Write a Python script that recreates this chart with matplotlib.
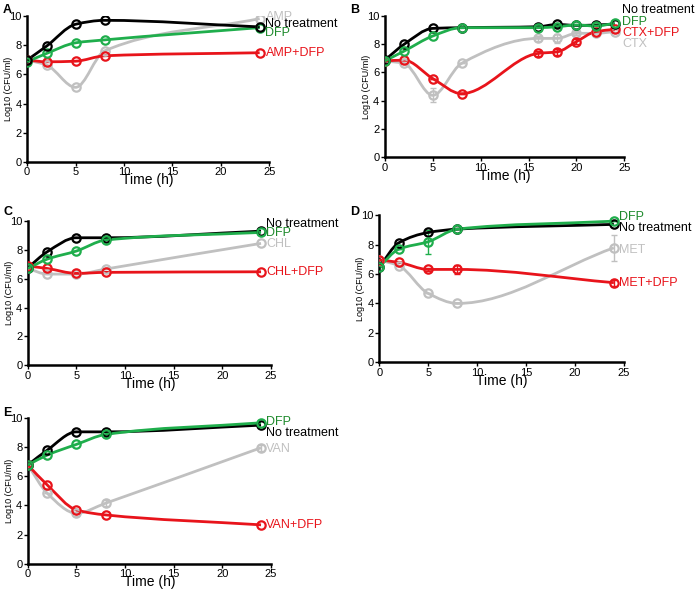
import matplotlib
matplotlib.use('Agg')
import matplotlib.pyplot as plt
import numpy as np
from matplotlib.path import Path
from matplotlib.patches import PathPatch

plt.rcParams['font.family'] = ['Liberation Sans', 'DejaVu Sans']

BLACK = '#000000'
GREEN = '#1fae4c'
GREEN_TXT = '#1e8a2c'
RED = '#e8141b'
GRAY = '#c0c0c0'

# Panel A
t_a = [0, 2, 5, 8, 24]
a_none = [6.98, 7.93, 9.43, 9.70, 9.25]
a_dfp = [6.86, 7.43, 8.16, 8.36, 9.20]
a_amp = [6.98, 6.64, 5.11, 7.61, 9.82]
a_ampdfp = [6.98, 6.86, 6.90, 7.27, 7.48]

# Panel B
t_b = [0, 2, 5, 8, 16, 18, 20, 22, 24]
b_none = [6.88, 7.99, 9.12, 9.17, 9.24, 9.40, 9.33, 9.36, 9.43]
b_dfp = [6.82, 7.51, 8.58, 9.17, 9.17, 9.24, 9.36, 9.29, 9.48]
b_ctx = [6.82, 6.64, 4.38, 6.64, 8.41, 8.41, 8.77, 8.77, 8.89]
b_ctx_err = [0, 0, 0.5, 0, 0.15, 0.3, 0.15, 0, 0]
b_ctxdfp = [6.82, 6.87, 5.57, 4.50, 7.35, 7.46, 8.18, 8.89, 9.05]
b_ctxdfp_err = [0, 0, 0, 0, 0.15, 0.2, 0.2, 0, 0]

# Panel C
t_c = [0, 2, 5, 8, 24]
c_none = [6.76, 7.87, 8.84, 8.84, 9.30]
c_dfp = [6.71, 7.36, 7.92, 8.68, 9.21]
c_chl = [6.71, 6.32, 6.32, 6.67, 8.45]
c_chldfp = [6.88, 6.71, 6.37, 6.44, 6.48]

# Panel D
t_d = [0, 2, 5, 8, 24]
d_none = [6.49, 8.12, 8.82, 9.05, 9.37]
d_dfp = [6.49, 7.69, 8.19, 9.05, 9.59]
d_dfp_err = [0, 0, 0.8, 0, 0]
d_met = [6.95, 6.56, 4.68, 4.00, 7.78]
d_met_err = [0, 0, 0, 0, 0.9]
d_metdfp = [6.95, 6.79, 6.31, 6.31, 5.41]
d_metdfp_err = [0, 0, 0.1, 0.3, 0.2]

# Panel E
t_e = [0, 2, 5, 8, 24]
e_none = [6.77, 7.79, 9.04, 9.04, 9.50]
e_dfp = [6.77, 7.45, 8.18, 8.86, 9.66]
e_van = [6.77, 4.83, 3.46, 4.15, 7.95]
e_van_err = [0, 0, 0.2, 0.2, 0.2]
e_vandfp = [6.77, 5.40, 3.69, 3.35, 2.67]


def pchip_slopes(x, y):
    x = np.asarray(x, float)
    y = np.asarray(y, float)
    h = np.diff(x)
    d = np.diff(y) / h
    m = np.zeros_like(y)
    m[0] = d[0]
    m[-1] = d[-1]
    for k in range(1, len(x) - 1):
        if d[k - 1] * d[k] <= 0:
            m[k] = 0
        else:
            w1 = 2 * h[k] + h[k - 1]
            w2 = h[k] + 2 * h[k - 1]
            m[k] = (w1 + w2) / (w1 / d[k - 1] + w2 / d[k])
    return m


def curve(ax, x, y, color, err=None):
    # courbe lissee (cubique de Hermite) passant par les points
    m = pchip_slopes(x, y)
    verts = [(x[0], y[0])]
    codes = [Path.MOVETO]
    for k in range(len(x) - 1):
        h = x[k + 1] - x[k]
        verts += [(x[k] + h / 3, y[k] + m[k] * h / 3),
                  (x[k + 1] - h / 3, y[k + 1] - m[k + 1] * h / 3),
                  (x[k + 1], y[k + 1])]
        codes += [Path.CURVE4] * 3
    ax.add_patch(PathPatch(Path(verts, codes), fill=False, edgecolor=color,
                           lw=2, zorder=3))
    if err is not None:
        ax.errorbar(x, y, yerr=err, fmt='none', ecolor=color, elinewidth=1,
                    capsize=2, zorder=2)
    ax.plot(x, y, 'o', ms=6, mfc='none', mec=color, mew=1.6, zorder=4)


def setup(ax, letter, lx, ly):
    ax.set_xlim(0, 25)
    ax.set_ylim(0, 10)
    ax.set_xticks([0, 5, 10, 15, 20, 25])
    ax.set_yticks([0, 2, 4, 6, 8, 10])
    for s in ['top', 'right']:
        ax.spines[s].set_visible(False)
    for s in ['left', 'bottom']:
        ax.spines[s].set_linewidth(1.8)
    ax.tick_params(labelsize=8, length=3, width=1, pad=1)
    ax.set_xlabel('Time (h)', fontsize=10, labelpad=-3)
    ax.set_ylabel('Log10 (CFU/ml)', fontsize=6.5)
    ax.yaxis.set_label_coords(-0.058, 0.5)
    fig.text(lx / 696, 1 - ly / 591, letter, fontsize=9, fontweight='bold',
             ha='left', va='top')


def label(ax, x, y, text, color):
    ax.text(x, y, text, color=color, fontsize=9, va='center', ha='left',
            clip_on=False)


fig = plt.figure(figsize=(6.96, 5.91), dpi=100)

ax = fig.add_axes([0.039, 0.726, 0.348, 0.247])
setup(ax, 'A', 3, 4)
curve(ax, t_a, a_amp, GRAY)
curve(ax, t_a, a_ampdfp, RED)
curve(ax, t_a, a_dfp, GREEN)
curve(ax, t_a, a_none, BLACK)
label(ax, 24.6, 9.9, 'AMP', GRAY)
label(ax, 24.6, 9.43, 'No treatment', BLACK)
label(ax, 24.6, 8.85, 'DFP', GREEN_TXT)
label(ax, 24.6, 7.48, 'AMP+DFP', RED)

ax = fig.add_axes([0.553, 0.734, 0.344, 0.239])
setup(ax, 'B', 350, 4)
curve(ax, t_b, b_ctx, GRAY, b_ctx_err)
curve(ax, t_b, b_ctxdfp, RED, b_ctxdfp_err)
curve(ax, t_b, b_none, BLACK)
curve(ax, t_b, b_dfp, GREEN)
label(ax, 24.8, 10.4, 'No treatment', BLACK)
label(ax, 24.8, 9.6, 'DFP', GREEN_TXT)
label(ax, 24.8, 8.77, 'CTX+DFP', RED)
label(ax, 24.8, 8.0, 'CTX', GRAY)

ax = fig.add_axes([0.040, 0.382, 0.349, 0.244])
setup(ax, 'C', 3, 206)
curve(ax, t_c, c_chl, GRAY)
curve(ax, t_c, c_chldfp, RED)
curve(ax, t_c, c_none, BLACK)
curve(ax, t_c, c_dfp, GREEN)
label(ax, 24.5, 9.8, 'No treatment', BLACK)
label(ax, 24.5, 9.14, 'DFP', GREEN_TXT)
label(ax, 24.5, 8.38, 'CHL', GRAY)
label(ax, 24.5, 6.48, 'CHL+DFP', RED)

ax = fig.add_axes([0.545, 0.387, 0.351, 0.249])
setup(ax, 'D', 350, 206)
curve(ax, t_d, d_met, GRAY, d_met_err)
curve(ax, t_d, d_metdfp, RED, d_metdfp_err)
curve(ax, t_d, d_none, BLACK)
curve(ax, t_d, d_dfp, GREEN, d_dfp_err)
label(ax, 24.5, 9.89, 'DFP', GREEN_TXT)
label(ax, 24.5, 9.1, 'No treatment', BLACK)
label(ax, 24.5, 7.62, 'MET', GRAY)
label(ax, 24.5, 5.41, 'MET+DFP', RED)

ax = fig.add_axes([0.040, 0.046, 0.349, 0.247])
setup(ax, 'E', 3, 407)
curve(ax, t_e, e_van, GRAY, e_van_err)
curve(ax, t_e, e_vandfp, RED)
curve(ax, t_e, e_none, BLACK)
curve(ax, t_e, e_dfp, GREEN)
label(ax, 24.5, 9.73, 'DFP', GREEN_TXT)
label(ax, 24.5, 8.93, 'No treatment', BLACK)
label(ax, 24.5, 7.84, 'VAN', GRAY)
label(ax, 24.5, 2.67, 'VAN+DFP', RED)

fig.savefig('out.png', dpi=100)
